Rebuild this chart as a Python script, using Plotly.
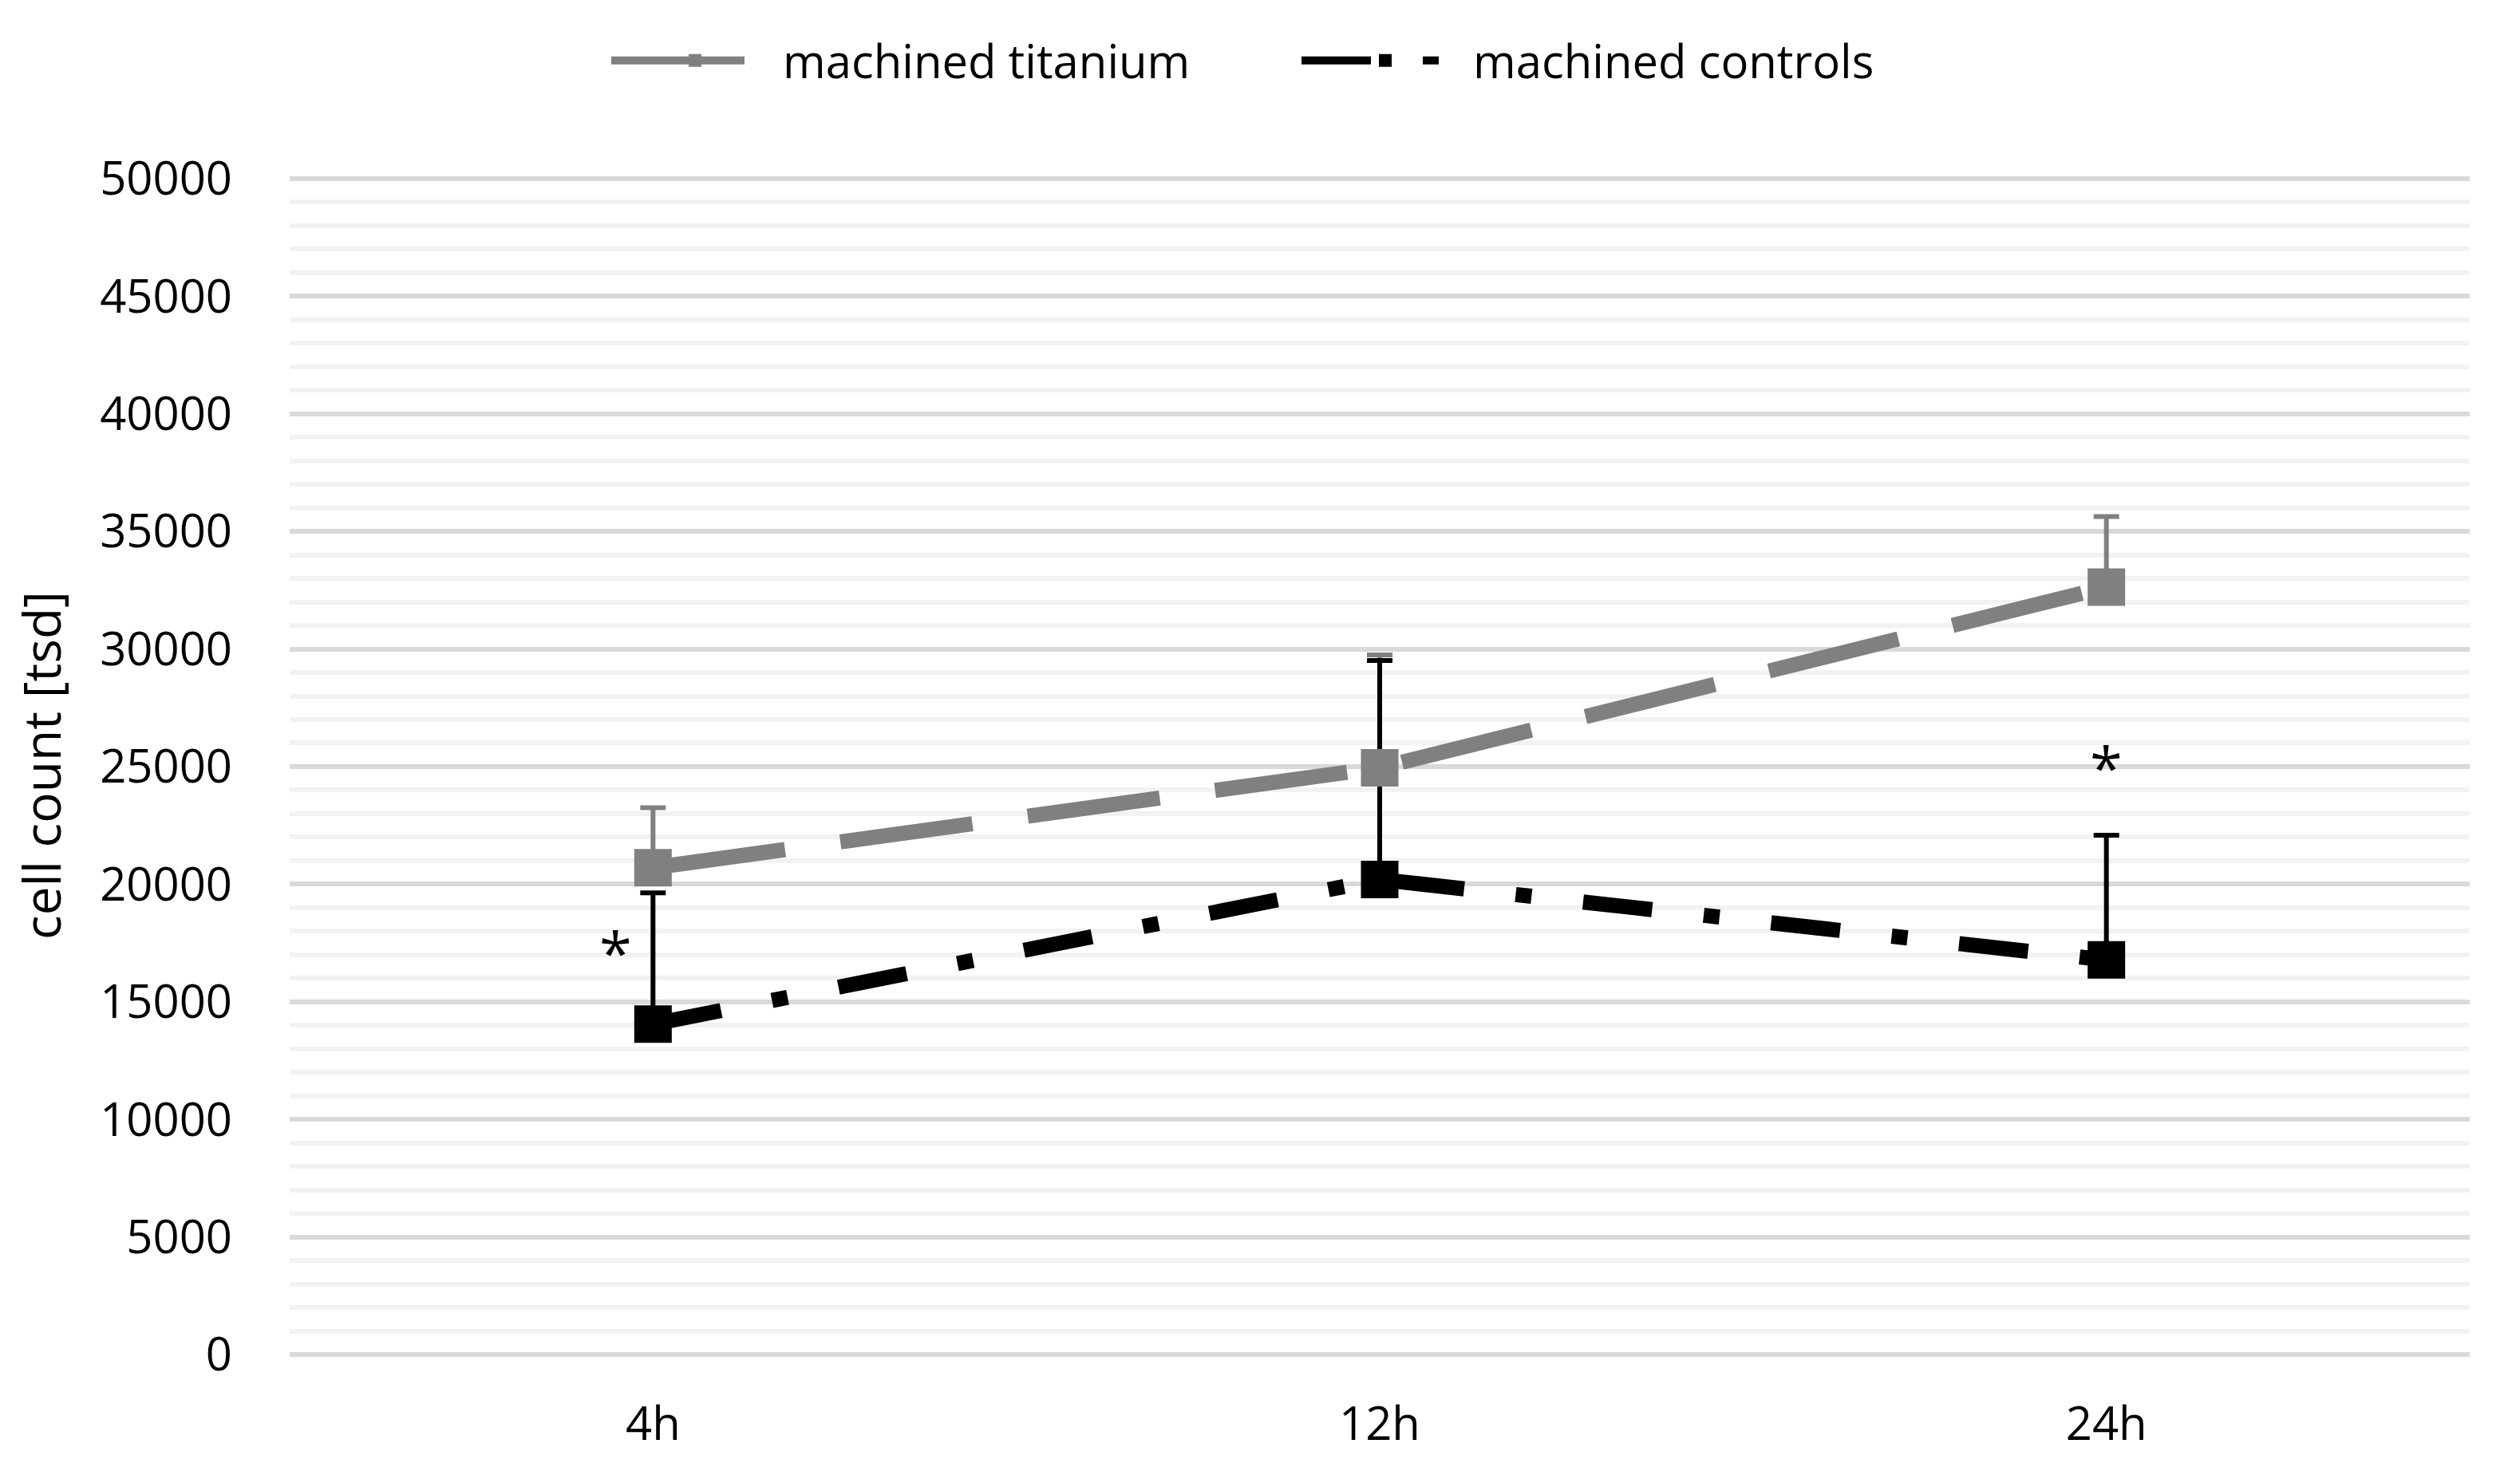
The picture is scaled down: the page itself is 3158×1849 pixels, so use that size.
import plotly.graph_objects as go

# ---- data ----
categories = ["4h", "12h", "24h"]
titanium = [20700, 24950, 32630]
titanium_err = [2550, 4800, 3000]
controls = [14050, 20200, 16780]
controls_err = [5580, 9310, 5300]
series_names = ["machined titanium", "machined controls"]
y_ticks = list(range(0, 50001, 5000))
star_x = ["4h", "24h"]
star_y = [17200, 25100]
star_text = ["*", "*"]

GRAY = "#808080"
BLACK = "#000000"
FONT = "Open Sans"

W, H = 3158, 1849

fig = go.Figure()

# titanium error bars (under the control error bars)
fig.add_trace(go.Scatter(
    x=categories, y=titanium, mode="markers",
    marker=dict(color="rgba(0,0,0,0)", size=1),
    error_y=dict(type="data", array=titanium_err, arrayminus=[0] * len(titanium),
                 symmetric=False, color=GRAY, thickness=6, width=16),
    showlegend=False, hoverinfo="skip",
))

# controls
fig.add_trace(go.Scatter(
    x=categories, y=controls, name=series_names[1], mode="lines+markers",
    line=dict(color=BLACK, width=19, dash="87px,65px,20px,65px"),
    marker=dict(symbol="square", size=47, color=BLACK, line=dict(width=0)),
    error_y=dict(type="data", array=controls_err, arrayminus=[0] * len(controls),
                 symmetric=False, color=BLACK, thickness=6, width=16),
    legendrank=2,
))

# titanium
fig.add_trace(go.Scatter(
    x=categories, y=titanium, name=series_names[0], mode="lines+markers",
    line=dict(color=GRAY, width=19, dash="167px,70px"),
    marker=dict(symbol="square", size=47, color=GRAY, line=dict(width=0)),
    legendrank=1,
))

for sx, sy, st in zip(star_x, star_y, star_text):
    fig.add_annotation(
        x=sx, y=sy, xref="x", yref="y", text=st, showarrow=False,
        xshift=-47 if sx == "4h" else 0, yshift=-3,
        font=dict(family=FONT, size=74, color=BLACK),
        xanchor="center", yanchor="middle",
    )

fig.update_layout(
    width=W, height=H,
    margin=dict(l=355, r=71, t=213, b=159),
    paper_bgcolor="white", plot_bgcolor="white",
    font=dict(family=FONT, size=58, color=BLACK),
    legend=dict(
        orientation="h", xref="container", yref="container",
        x=753 / W, xanchor="left", y=1 - 68 / H, yanchor="middle",
        font=dict(family=FONT, size=58, color=BLACK),
        itemwidth=210, entrywidth=640, entrywidthmode="pixels",
        bgcolor="rgba(0,0,0,0)",
    ),
    xaxis=dict(
        type="category", range=[-0.5, 2.5],
        showgrid=False, showline=False, zeroline=False, ticks="",
        tickfont=dict(family=FONT, size=58, color=BLACK),
        ticklabelstandoff=48,
    ),
    yaxis=dict(
        range=[0, 50100], tickvals=y_ticks, tickformat="d",
        showgrid=True, gridcolor="#d9d9d9", gridwidth=6,
        zeroline=True, zerolinecolor="#d9d9d9", zerolinewidth=6,
        showline=False, ticks="",
        tickfont=dict(family=FONT, size=58, color=BLACK),
        ticklabelstandoff=71,
        minor=dict(dtick=1000, showgrid=True, gridcolor="#f2f2f2", gridwidth=6),
        title=dict(text="cell count [tsd]", standoff=27,
                   font=dict(family=FONT, size=64, color=BLACK)),
    ),
)

fig.write_html("out.html")
